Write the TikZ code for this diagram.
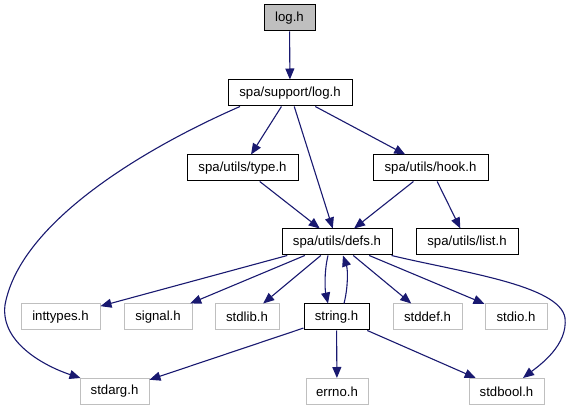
\documentclass[tikz,border=0pt]{standalone}
\usepackage{fontspec}
\setmainfont{Liberation Sans}
\usetikzlibrary{arrows.meta}
\definecolor{edgeblue}{HTML}{191970}
\definecolor{grey75}{HTML}{BFBFBF}
\tikzset{
  box/.style={draw, line width=1pt, minimum height=26pt, inner sep=0pt,
    font=\fontsize{13.2pt}{15pt}\selectfont},
  intbox/.style={box, draw=black},
  extbox/.style={box, draw=grey75},
  dep/.style={draw=edgeblue, line width=1.1pt,
    -{Triangle[length=11pt, width=9pt, fill=edgeblue]}},
}
\begin{document}
\begin{tikzpicture}[x=1pt, y=-1pt]
\useasboundingbox (0,0) rectangle (570,411);
\node[intbox, fill=grey75, minimum width=51pt] (log) at (289.5,18) {log.h};
\node[intbox, minimum width=124pt] (sup) at (290,93) {spa/support/log.h};
\node[intbox, minimum width=111pt] (type) at (242.5,168) {spa/utils/type.h};
\node[intbox, minimum width=115pt] (hook) at (430.5,168) {spa/utils/hook.h};
\node[intbox, minimum width=110pt] (defs) at (337,242) {spa/utils/defs.h};
\node[intbox, minimum width=102pt] (list) at (467,242) {spa/utils/list.h};
\node[extbox, minimum width=79pt] (inttypes) at (60.5,317) {inttypes.h};
\node[extbox, minimum width=68pt] (signal) at (158,317) {signal.h};
\node[extbox, minimum width=64pt] (stdlib) at (247,317) {stdlib.h};
\node[intbox, minimum width=65pt] (string) at (336.5,317) {string.h};
\node[extbox, minimum width=69pt] (stddef) at (427.5,317) {stddef.h};
\node[extbox, minimum width=62pt] (stdio) at (516,317) {stdio.h};
\node[extbox, minimum width=69pt] (stdarg) at (114.5,391.5) {stdarg.h};
\node[extbox, minimum width=62pt] (errno) at (337,391.5) {errno.h};
\node[extbox, minimum width=75pt] (stdbool) at (506.5,391.5) {stdbool.h};

\draw[dep] (log) -- (sup);
\draw[dep] ([xshift=-50pt]sup.south) .. controls (145,148) and (20,222) .. (5,305)
  .. controls (0,345) and (50,368) .. ([xshift=1pt]stdarg.north west);
\draw[dep] (sup) -- (type);
\draw[dep] (sup) -- (defs);
\draw[dep] (sup) -- (hook);
\draw[dep] (type) -- (defs);
\draw[dep] (hook) -- (defs);
\draw[dep] (hook) -- (list);
\draw[dep] (defs) -- (inttypes);
\draw[dep] (defs) -- (signal);
\draw[dep] (defs) -- (stdlib);
\draw[dep] ([xshift=-9pt]defs.south) .. controls (324,272) and (325,290) .. ([xshift=-8.5pt]string.north);
\draw[dep] ([xshift=7.5pt]string.north) .. controls (348,288) and (348,270) .. ([xshift=6pt]defs.south);
\draw[dep] (defs) -- (stddef);
\draw[dep] (defs) -- (stdio);
\draw[dep] ([xshift=-1pt]defs.south east) .. controls (460,272) and (560,285) .. (565,318)
  .. controls (568,345) and (540,365) .. ([xshift=16.5pt]stdbool.north);
\draw[dep] (string) -- (stdarg);
\draw[dep] (string) -- (errno);
\draw[dep] (string) -- (stdbool);
\end{tikzpicture}
\end{document}
